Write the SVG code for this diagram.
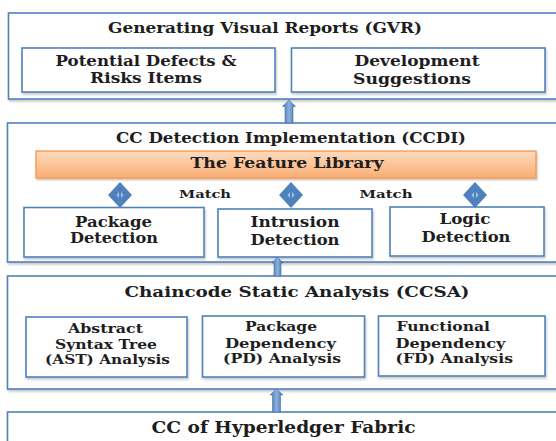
<svg xmlns="http://www.w3.org/2000/svg" width="556" height="441" viewBox="0 0 556 441">
<defs>
<style>
.box{fill:#fff;stroke:#4f81bd;stroke-width:1.6;filter:url(#sh)}
.t{font-family:"DejaVu Serif","Liberation Serif",serif;font-weight:bold;fill:#1e1e1e;text-anchor:middle}
.l{text-anchor:start}
.arr{fill:url(#ag);stroke:#3d6ea8;stroke-width:0.6}
.dia{fill:#4f81bd}
.mk{fill:#a9c2e3}
</style>
<filter id="sh" x="-5%" y="-5%" width="110%" height="115%">
<feDropShadow dx="1" dy="2" stdDeviation="1" flood-color="#8a8a8a" flood-opacity="0.45"/>
</filter>
<linearGradient id="og" x1="0" y1="0" x2="0" y2="1">
<stop offset="0" stop-color="#fddcc0"/>
<stop offset="1" stop-color="#f9ad72"/>
</linearGradient>
<linearGradient id="ag" x1="0" y1="0" x2="1" y2="0">
<stop offset="0" stop-color="#3f70ae"/>
<stop offset="0.5" stop-color="#8db0dd"/>
<stop offset="1" stop-color="#3f70ae"/>
</linearGradient>
</defs>

<g id="gvr">
<rect class="box" x="8.5" y="13" width="560" height="86"/>
<text class="t" x="265" y="33" font-size="15" textLength="314" lengthAdjust="spacingAndGlyphs">Generating Visual Reports (GVR)</text>
</g>
<g id="defects">
<rect class="box" x="22" y="48" width="253" height="44"/>
<text class="t" x="146" y="66" font-size="14.5" textLength="181" lengthAdjust="spacingAndGlyphs">Potential Defects &amp;</text>
<text class="t" x="146" y="83" font-size="14.5" textLength="112" lengthAdjust="spacingAndGlyphs">Risks Items</text>
</g>
<g id="suggestions">
<rect class="box" x="291.5" y="48" width="253.5" height="44"/>
<text class="t" x="417" y="66" font-size="14.5" textLength="125" lengthAdjust="spacingAndGlyphs">Development</text>
<text class="t" x="412" y="84" font-size="14.5" textLength="118" lengthAdjust="spacingAndGlyphs">Suggestions</text>
</g>

<g id="ccdi">
<rect class="box" x="7.5" y="123" width="560" height="139"/>
<text class="t" x="291" y="143" font-size="15" textLength="350" lengthAdjust="spacingAndGlyphs">CC Detection Implementation (CCDI)</text>
</g>
<g id="feature-library">
<rect x="36" y="151" width="500" height="27" fill="url(#og)" stroke="#f79646" stroke-width="1.3" filter="url(#sh)"/>
<text class="t" x="287" y="167.5" font-size="14.5" textLength="193" lengthAdjust="spacingAndGlyphs">The Feature Library</text>
</g>
<g id="package-detection">
<rect class="box" x="24" y="207.5" width="180" height="49.5"/>
<text class="t" x="113.5" y="226.5" font-size="14.5" textLength="77" lengthAdjust="spacingAndGlyphs">Package</text>
<text class="t" x="114" y="243" font-size="14.5" textLength="88" lengthAdjust="spacingAndGlyphs">Detection</text>
</g>
<g id="intrusion-detection">
<rect class="box" x="218" y="209" width="154" height="48"/>
<text class="t" x="295" y="227" font-size="14.5" textLength="89" lengthAdjust="spacingAndGlyphs">Intrusion</text>
<text class="t" x="295" y="244.5" font-size="14.5" textLength="89" lengthAdjust="spacingAndGlyphs">Detection</text>
</g>
<g id="logic-detection">
<rect class="box" x="390" y="207" width="154" height="49"/>
<text class="t" x="465" y="224" font-size="14.5" textLength="51" lengthAdjust="spacingAndGlyphs">Logic</text>
<text class="t" x="466" y="242" font-size="14.5" textLength="89" lengthAdjust="spacingAndGlyphs">Detection</text>
</g>

<g id="ccsa">
<rect class="box" x="7.5" y="276" width="560" height="113"/>
<text class="t" x="297" y="296.5" font-size="15.5" textLength="345" lengthAdjust="spacingAndGlyphs">Chaincode Static Analysis (CCSA)</text>
</g>
<g id="ast">
<rect class="box" x="26" y="317" width="161" height="60"/>
<text class="t" x="105.5" y="333" font-size="12.5" textLength="75" lengthAdjust="spacingAndGlyphs">Abstract</text>
<text class="t" x="106" y="349" font-size="12.5" textLength="102" lengthAdjust="spacingAndGlyphs">Syntax Tree</text>
<text class="t" x="107.5" y="364" font-size="12.5" textLength="125" lengthAdjust="spacingAndGlyphs">(AST) Analysis</text>
</g>
<g id="pd">
<rect class="box" x="202.5" y="316" width="162" height="61"/>
<text class="t" x="281" y="331" font-size="12.5" textLength="72" lengthAdjust="spacingAndGlyphs">Package</text>
<text class="t" x="280.5" y="348" font-size="12.5" textLength="111" lengthAdjust="spacingAndGlyphs">Dependency</text>
<text class="t" x="282" y="362.5" font-size="12.5" textLength="118" lengthAdjust="spacingAndGlyphs">(PD) Analysis</text>
</g>
<g id="fd">
<rect class="box" x="378.5" y="316" width="166.5" height="60"/>
<text class="t l" x="396.5" y="331" font-size="12.5" textLength="93.5" lengthAdjust="spacingAndGlyphs">Functional</text>
<text class="t l" x="395.5" y="348" font-size="12.5" textLength="110" lengthAdjust="spacingAndGlyphs">Dependency</text>
<text class="t l" x="395.5" y="362.5" font-size="12.5" textLength="117.5" lengthAdjust="spacingAndGlyphs">(FD) Analysis</text>
</g>

<g id="cc-fabric">
<rect class="box" x="7.5" y="412" width="560" height="40"/>
<text class="t" x="283.5" y="432.5" font-size="16" textLength="264" lengthAdjust="spacingAndGlyphs">CC of Hyperledger Fabric</text>
</g>

<g id="connectors">
<path class="arr" d="M289 100 L295.5 106.5 L293 106.5 L293 123 L285 123 L285 106.5 L282.5 106.5 Z"/>
<path class="arr" d="M277.5 257 L283 263 L281 263 L281 276 L274 276 L274 263 L272 263 Z"/>
<path class="arr" d="M276.5 389 L283 395 L280.5 395 L280.5 412 L272.5 412 L272.5 395 L270 395 Z"/>
<g id="match-1">
<path class="dia" d="M120 182 L132 195 L120 208 L108 195 Z"/>
<path class="mk" d="M119 192 L116.5 195 L119 198 Z M121 192 L123.5 195 L121 198 Z"/>
</g>
<g id="match-2">
<path class="dia" d="M291 182 L303 195 L291 208 L279 195 Z"/>
<path class="mk" d="M290 192 L287.5 195 L290 198 Z M292 192 L294.5 195 L292 198 Z"/>
</g>
<g id="match-3">
<path class="dia" d="M475 182 L487 195 L475 208 L463 195 Z"/>
<path class="mk" d="M474 192 L471.5 195 L474 198 Z M476 192 L478.5 195 L476 198 Z"/>
</g>
<text class="t" x="205" y="197.5" font-size="11.5" textLength="52" lengthAdjust="spacingAndGlyphs">Match</text>
<text class="t" x="386" y="197.5" font-size="11.5" textLength="53" lengthAdjust="spacingAndGlyphs">Match</text>
</g>
</svg>
